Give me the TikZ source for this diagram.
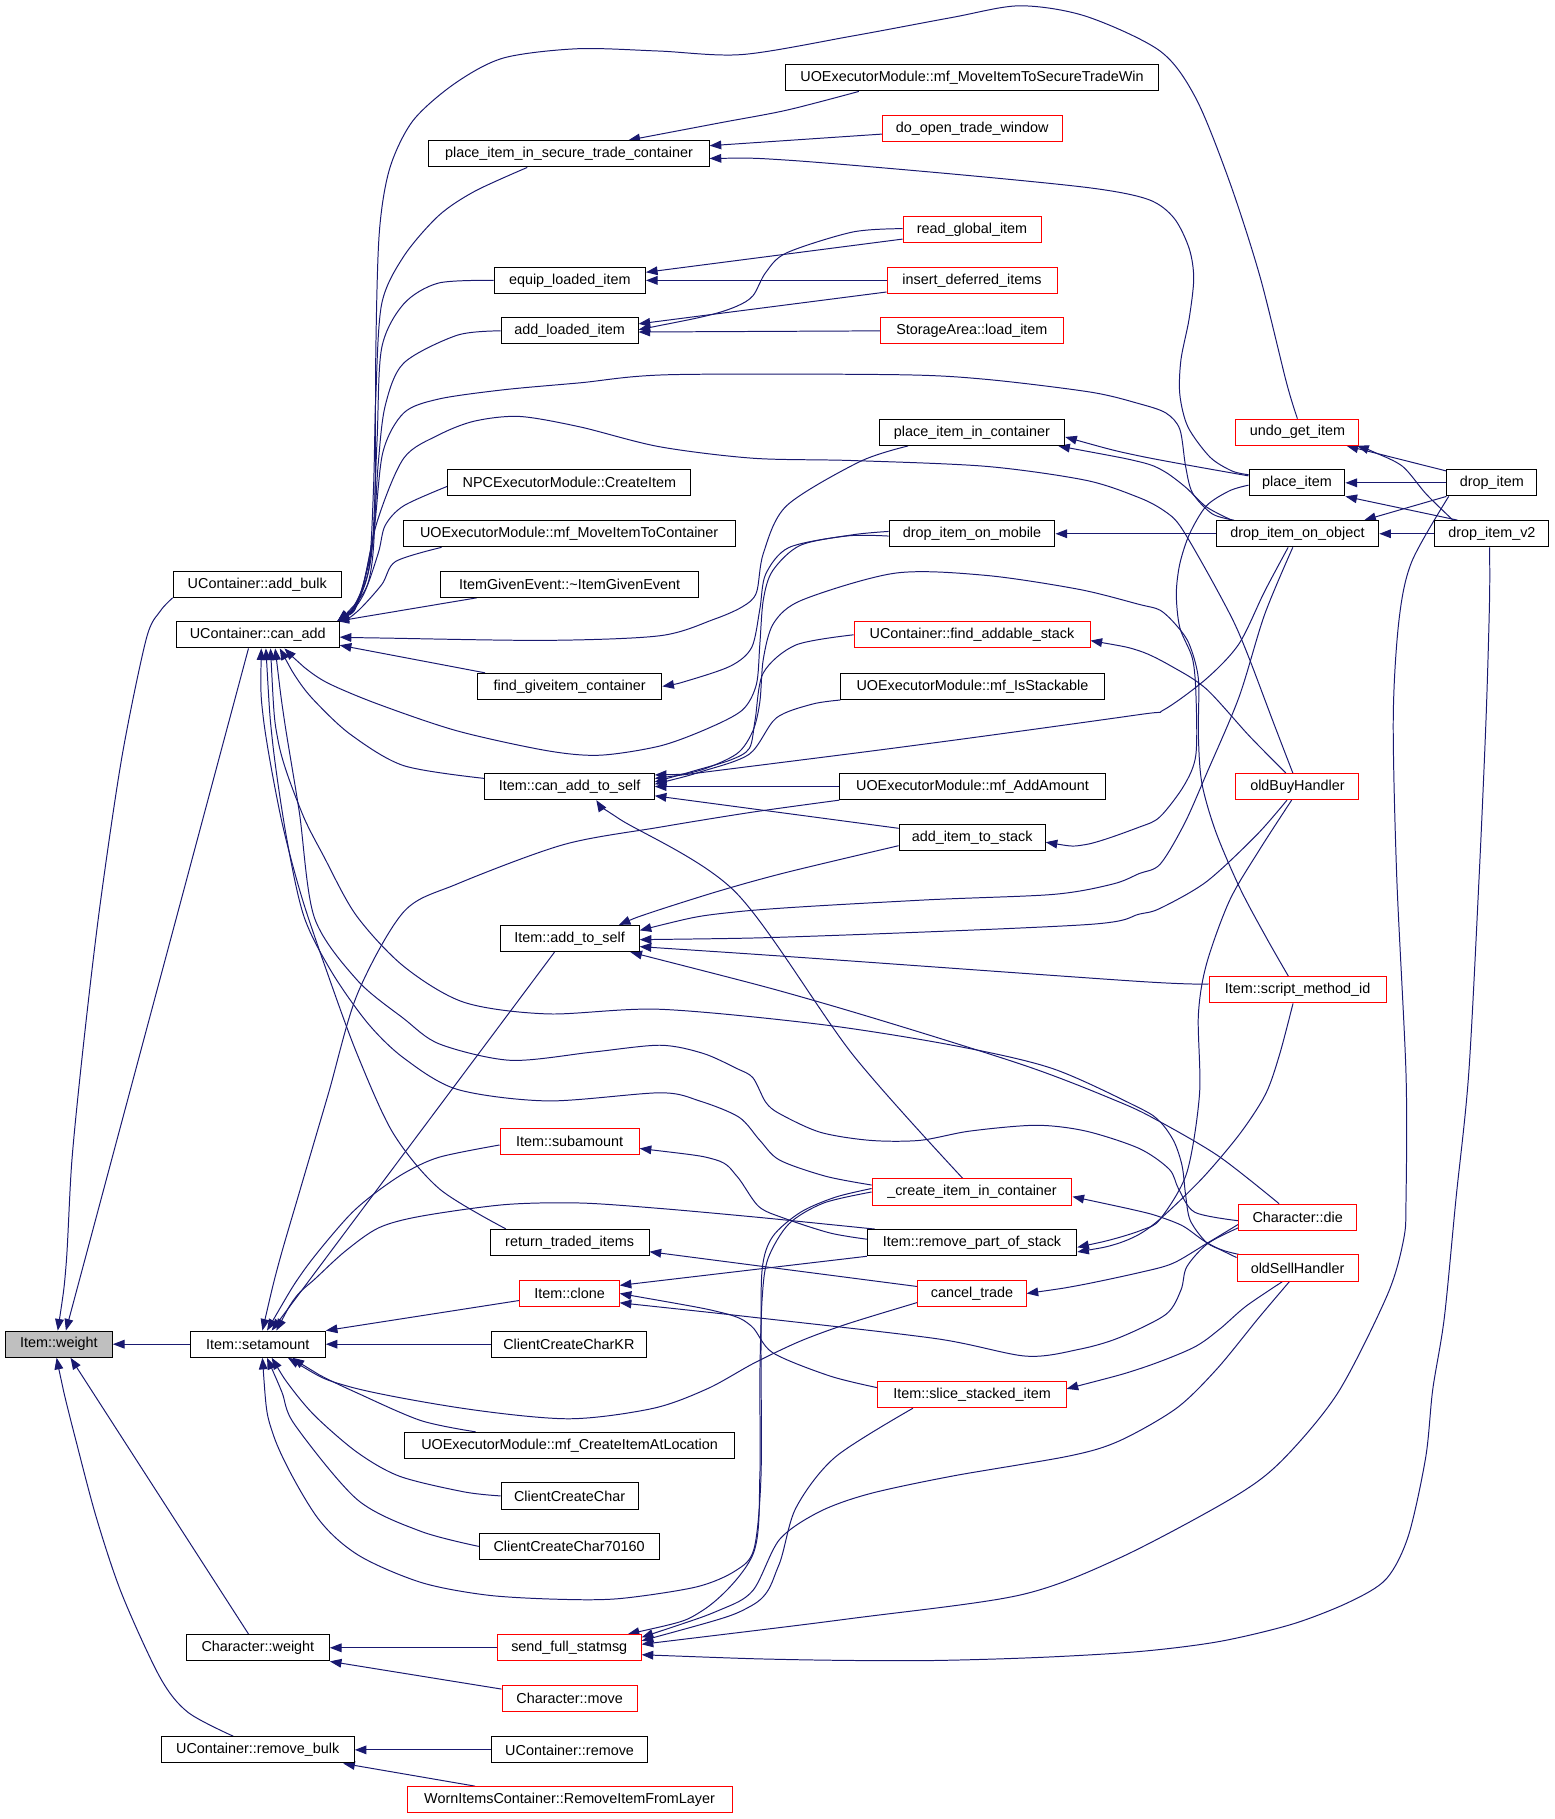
\documentclass[tikz,border=0pt]{standalone}
\usepackage{fontspec}
\setmainfont{Liberation Sans}
\usetikzlibrary{arrows.meta,calc}
\pgfdeclarelayer{bg}
\pgfdeclarelayer{edges}
\pgfsetlayers{bg,edges,main}
\definecolor{edgec}{HTML}{191970}
\definecolor{nfill}{HTML}{BFBFBF}
\tikzset{
  nd/.style={draw=black, fill=white, line width=0.85pt, minimum height=22.6pt, inner sep=0pt, anchor=center, font=\fontsize{12.4pt}{14pt}\selectfont},
  rd/.style={nd, draw=red},
  e/.style={draw=edgec, line width=0.85pt, arrows={Triangle[length=10pt,width=7.5pt]-}}
}
\begin{document}
\begin{tikzpicture}[x=1pt,y=-1pt]
\begin{pgfonlayer}{bg}
\fill[white] (0,0) rectangle (1340,1568);
\end{pgfonlayer}
\useasboundingbox (0,0) rectangle (1340,1568);
% column 1-2
\node[nd,fill=nfill,minimum width=92.2pt] (W) at (50.8,1158.7) {Item::weight};
\node[nd,minimum width=145pt] (AB) at (221.8,503.6) {UContainer::add\_bulk};
\node[nd,minimum width=140.5pt] (C) at (222.2,547.2) {UContainer::can\_add};
\node[nd,minimum width=116.5pt] (SA) at (222.2,1158.7) {Item::setamount};
\node[nd,minimum width=123.3pt] (CW) at (222.3,1420.4) {Character::weight};
\node[nd,minimum width=166.5pt] (RB) at (222.2,1508.4) {UContainer::remove\_bulk};
% column 3
\node[nd,minimum width=241.6pt] (PISTC) at (490.5,132.6) {place\_item\_in\_secure\_trade\_container};
\node[nd,minimum width=130.4pt] (EQ) at (491.2,241.7) {equip\_loaded\_item};
\node[nd,minimum width=118pt] (AL) at (491,285.2) {add\_loaded\_item};
\node[nd,minimum width=209.4pt] (NPC) at (490.8,416.2) {NPCExecutorModule::CreateItem};
\node[nd,minimum width=286.3pt] (MIC) at (490.6,460.1) {UOExecutorModule::mf\_MoveItemToContainer};
\node[nd,minimum width=223pt] (IGE) at (491,503.6) {ItemGivenEvent::\textasciitilde ItemGivenEvent};
\node[nd,minimum width=159pt] (FGC) at (491,591.7) {find\_giveitem\_container};
\node[nd,minimum width=146pt] (CATS) at (491,678) {Item::can\_add\_to\_self};
\node[nd,minimum width=120pt] (ATS) at (491,809) {Item::add\_to\_self};
\node[rd,minimum width=120pt] (SUB) at (491,984) {Item::subamount};
\node[nd,minimum width=137pt] (RTI) at (491,1071) {return\_traded\_items};
\node[rd,minimum width=85.6pt] (CLN) at (491,1115) {Item::clone};
\node[nd,minimum width=134pt] (KR) at (490.4,1158.7) {ClientCreateCharKR};
\node[nd,minimum width=285pt] (CIAL) at (491,1246) {UOExecutorModule::mf\_CreateItemAtLocation};
\node[nd,minimum width=118pt] (CCC) at (491,1289.5) {ClientCreateChar};
\node[nd,minimum width=155pt] (C70) at (490.6,1333) {ClientCreateChar70160};
\node[rd,minimum width=124pt] (SFS) at (490.7,1420.4) {send\_full\_statmsg};
\node[rd,minimum width=116.5pt] (CM) at (491,1464) {Character::move};
\node[nd,minimum width=135pt] (UR) at (491,1508.4) {UContainer::remove};
\node[rd,minimum width=280pt] (WIC) at (491,1551.4) {WornItemsContainer::RemoveItemFromLayer};
% column 4
\node[nd,minimum width=322.3pt] (STW) at (837.9,67.1) {UOExecutorModule::mf\_MoveItemToSecureTradeWin};
\node[rd,minimum width=155pt] (DOT) at (838,110.6) {do\_open\_trade\_window};
\node[rd,minimum width=119pt] (RGI) at (837.9,198.1) {read\_global\_item};
\node[rd,minimum width=146.5pt] (IDI) at (837.9,241.7) {insert\_deferred\_items};
\node[rd,minimum width=157pt] (SAL) at (837.8,285.2) {StorageArea::load\_item};
\node[nd,minimum width=160pt] (PIC) at (837.8,372.7) {place\_item\_in\_container};
\node[nd,minimum width=143pt] (DIM) at (837.9,460.1) {drop\_item\_on\_mobile};
\node[rd,minimum width=203.4pt] (FAS) at (837.9,547.2) {UContainer::find\_addable\_stack};
\node[nd,minimum width=227pt] (IST) at (838.3,591.7) {UOExecutorModule::mf\_IsStackable};
\node[nd,minimum width=228.7pt] (AA) at (838.3,678) {UOExecutorModule::mf\_AddAmount};
\node[nd,minimum width=126pt] (AIS) at (838,722) {add\_item\_to\_stack};
\node[rd,minimum width=172.3pt] (CIC) at (837.9,1027.5) {\_create\_item\_in\_container};
\node[nd,minimum width=180.6pt] (RPS) at (837.9,1071.2) {Item::remove\_part\_of\_stack};
\node[rd,minimum width=93.2pt] (CT) at (837.9,1115) {cancel\_trade};
\node[rd,minimum width=162.2pt] (SSI) at (837.9,1202.2) {Item::slice\_stacked\_item};
% column 5
\node[rd,minimum width=106pt] (UGI) at (1118.4,372.6) {undo\_get\_item};
\node[nd,minimum width=82.7pt] (PI) at (1118,416.2) {place\_item};
\node[nd,minimum width=140.4pt] (DIO) at (1118.4,460.1) {drop\_item\_on\_object};
\node[rd,minimum width=106pt] (OBH) at (1118.4,678) {oldBuyHandler};
\node[rd,minimum width=152.8pt] (SMI) at (1118.6,853.2) {Item::script\_method\_id};
\node[rd,minimum width=101.2pt] (CD) at (1118.6,1049.3) {Character::die};
\node[rd,minimum width=104.3pt] (OSH) at (1118.5,1093) {oldSellHandler};
% column 6
\node[nd,minimum width=77.6pt] (DI) at (1286,416.2) {drop\_item};
\node[nd,minimum width=98.2pt] (DI2) at (1286,460.1) {drop\_item\_v2};

\begin{pgfonlayer}{edges}
% Item::weight
\draw[e] plot[smooth] coordinates {($(W.north)+(-1,0)$) (57,1090) (62,1000) (72,900) (86,782) (105,653) (126,551) (138,527) (AB.south west)};
\draw[e] ($(W.north)+(6,0)$) -- ($(C.south)+(-8,0)$);
\draw[e] (W.east) -- (SA.west);
\draw[e] ($(W.south)+(10,0)$) -- ($(CW.north)+(-8,0)$);
\draw[e] plot[smooth] coordinates {($(W.south)+(-2,0)$) (55,1200) (65,1240) (83,1308) (105,1374) (138,1446) (162,1476) ($(RB.north)+(-21,0)$)};
% UContainer::can_add fan
\draw[e] plot[smooth] coordinates {($(C.north east)+(-2,0)$) (306,521) (318,500) (323,450) (324,300) (327,200) (336,145) (356,104) (392,72) (434,50) (498,42) (568,44) (640,47) (735,31) (821,15) (879,5) (936,14) (1000,44) (1031,85) (1060,157) (1086,238) (1109,330) (UGI.north)};
\draw[e] plot[smooth] coordinates {($(C.north east)+(-2,0)$) (307,520) (318,490) (322,420) (324,340) (329,262) (348,221) (378,186) (409,165) ($(PISTC.south)+(-36,0)$)};
\draw[e] plot[smooth] coordinates {($(C.north east)+(-2,0)$) (307,519) (320,480) (325,380) (329,300) (348,262) (378,244) (EQ.west)};
\draw[e] plot[smooth] coordinates {($(C.north east)+(-2,0)$) (308,518) (321,470) (326,400) (332,350) (348,313) (394,289) (AL.west)};
\draw[e] plot[smooth] coordinates {($(C.north east)+(-2,0)$) (309,517) (322,460) (330,390) (348,356) (378,344) (434,336) (500,330) (577,323) (773,323) (850,327) (940,338) (982,348) (1005,356) (1017,370) (1022,402) (1028,425) (1045,443) ($(DIO.north west)+(16,0)$)};
\draw[e] plot[smooth] coordinates {($(C.north east)+(-2,0)$) (310,516) (325,450) (348,395) (378,375) (409,363) (448,359) (500,368) (568,385) (649,395) (735,397) (850,402) (936,414) (982,429) (1003,440) (1017,453) (1040,492) (1063,535) (1077,568) (1097,621) ($(OBH.north)+(-4,0)$)};
\draw[e] plot[smooth] coordinates {($(C.north east)+(-2,0)$) (312,515) (326,477) (332,453) (348,436) ($(NPC.west)+(0,3)$)};
\draw[e] plot[smooth] coordinates {($(C.north east)+(-2,0)$) (307,528) (329,504) (341,484) ($(MIC.south)+(-110,0)$)};
\draw[e] ($(C.north east)+(-2,0)$) -- ($(IGE.south)+(-80,0)$);
\draw[e] plot[smooth] coordinates {($(C.east)+(0,2)$) (330,550) (471,552) (569,548) (615,534) (640,523) (652,511) (658,477) (678,436) (741,398) ($(PIC.south)+(-55,0)$)};
\draw[e] ($(C.east)+(0,9)$) -- ($(FGC.north west)+(7,0)$);
\draw[e] plot[smooth] coordinates {($(C.south)+(23,0)$) (262,575) (283,589) (326,607) (394,630) (471,647) (517,651) (569,643) (610,628) (640,612) (652,590) (655,555) (658,517) (666,492) (690,470) (735,461) ($(DIM.west)+(0,-2)$)};
\draw[e] plot[smooth] coordinates {($(C.south)+(19,0)$) (256,585) (271,604) (302,633) (348,660) ($(CATS.west)+(0,-7)$)};
\draw[e] plot[smooth] coordinates {($(C.south)+(3,0)$) (227,619) (242,704) (260,773) (283,841) (308,909) (339,977) (379,1025) ($(RTI.north)+(-55,0)$)};
\draw[e] plot[smooth] coordinates {($(C.south)+(7,0)$) (235,640) (247,722) (262,790) (286,838) (317,882) (348,912) (394,939) (472,949) (569,942) (603,949) (637,963) (655,983) (672,1000) (712,1014) ($(CIC.west)+(0,-6)$)};
\draw[e] plot[smooth] coordinates {($(C.south)+(11,0)$) (240,640) (260,700) (279,738) (307,789) (348,833) (400,864) (472,874) (569,870) (707,883) (821,901) (907,921) (982,955) (1000,967) (1012,984) (1019,1005) (1022,1030) (1026,1052) (1040,1071) (1055,1078) ($(OSH.north west)+(2,0)$)};
\draw[e] plot[smooth] coordinates {($(C.south)+(15,0)$) (245,620) (258,700) (271,791) (308,845) (348,878) (379,900) (440,914) (510,907) (569,901) (606,908) (635,921) (649,929) (660,950) (672,960) (707,976) (750,983) (793,983) (836,975) (893,970) (936,975) (982,990) (1008,1008) (1016,1025) (1030,1045) ($(CD.west)+(0,3)$)};
% Item::setamount
\draw[e] plot[smooth] coordinates {($(SA.north)+(4,0)$) (240,1090) (258,1028) (283,943) (308,857) (348,786) (394,762) (486,728) (569,713) (649,700) (AA.south west)};
\draw[e] ($(SA.north)+(12,0)$) -- ($(ATS.south)+(-13,0)$);
\draw[e] plot[smooth] coordinates {($(SA.north)+(8,0)$) (262,1095) (298,1051) (320,1031) (348,1011.5) (378.6,997.5) ($(SUB.west)+(0,3)$)};
\draw[e] plot[smooth] coordinates {($(SA.north)+(16,0)$) (255,1118) (272,1102) (297.5,1078.6) (326.4,1058.4) (362.7,1048.4) (435,1038.4) (500,1037) (569,1041.7) (650,1049) (710,1055) ($(RPS.north west)+(7,0)$)};
\draw[e] (SA.north east) -- ($(CLN.west)+(0,6)$);
\draw[e] (SA.east) -- (KR.west);
\draw[e] plot[smooth] coordinates {($(SA.south)+(30,0)$) (275,1185) (308,1200.8) (362.7,1224.5) ($(CIAL.north west)+(62,0)$)};
\draw[e] plot[smooth] coordinates {($(SA.south)+(26,0)$) (300,1195) (399,1214) (490,1223) (563,1214) (610,1197) (650,1175) (690,1156) (731,1141) ($(CT.south west)+(0,-4)$)};
\draw[e] plot[smooth] coordinates {($(SA.south)+(12,0)$) (250,1195) (272,1221) (308,1252) (344.6,1272.6) (400,1286) (CCC.west)};
\draw[e] plot[smooth] coordinates {($(SA.south)+(8,0)$) (243,1200) (254,1228) (308,1292.7) (362.7,1320) (C70.west)};
\draw[e] plot[smooth] coordinates {($(SA.south)+(4,0)$) (236,1238) (272,1306) (308,1340) (362.7,1364) (420,1375) (482,1378.6) (534,1378) (600,1368) (634,1354) (650,1335) (656,1272) (656,1160) (657,1094) (666,1066) (690,1045) (720,1032) ($(CIC.west)+(0,-3)$)};
% Character::weight, remove_bulk
\draw[e] (CW.east) -- (SFS.west);
\draw[e] (CW.south east) -- ($(CM.west)+(0,-8)$);
\draw[e] (RB.east) -- (UR.west);
\draw[e] ($(RB.south east)+(-10,0)$) -- ($(WIC.north west)+(59,0)$);
% place_item_in_secure_trade_container
\draw[e] plot[smooth] coordinates {($(PISTC.north east)+(-70,0)$) (620,106) (678,95) ($(STW.south west)+(64,0)$)};
\draw[e] ($(PISTC.east)+(0,-7)$) -- ($(DOT.west)+(0,5)$);
\draw[e] plot[smooth] coordinates {($(PISTC.east)+(0,4)$) (678,138) (821,150) (940,162) (990,172) (1012,188) (1025,214) (1029,240) (1025,275) (1018,310) (1017,340) (1024,368) (1043,394) (1062,406) ($(PI.west)+(0,-7)$)};
% equip / add_loaded
\draw[e] ($(EQ.east)+(0,-7)$) -- ($(RGI.west)+(0,8)$);
\draw[e] (EQ.east) -- (IDI.west);
\draw[e] plot[smooth] coordinates {($(AL.east)+(0,-1)$) (610,272) (635,264) (649,255) (660,235) (678,218) (735,200) ($(RGI.west)+(0,-1)$)};
\draw[e] ($(AL.east)+(0,-6)$) -- ($(IDI.west)+(0,10)$);
\draw[e] ($(AL.east)+(0,1)$) -- (SAL.west);
% place_item_in_container, drop_item_on_mobile, find_giveitem_container
\draw[e] plot[smooth] coordinates {($(PIC.east)+(0,4)$) (982,393) ($(PI.west)+(0,-6)$)};
\draw[e] plot[smooth] coordinates {($(PIC.south east)+(-6,0)$) (982,398) (1003,406) (1022,420) (1040,437) ($(DIO.north west)+(14,0)$)};
\draw[e] (DIM.east) -- (DIO.west);
\draw[e] plot[smooth] coordinates {(FGC.east) (592,587) (630,574) (648,558) (655,525) (660,495) (680,472) (730,462) ($(DIM.west)+(0,2)$)};
% Item::can_add_to_self
\draw[e] plot[smooth] coordinates {($(CATS.east)+(0,-10)$) (600,665) (634.8,650) (649,630) (655,605) (658,568) (667,537) (692,517) (772,494) (850,496) (930,508) (982,521) (1000,526) (1014,539) (1025,555) (1033,585) (1033,634) (1036,675) (1048,717) (1069,766) (1092,809) ($(SMI.north)+(-8,0)$)};
\draw[e] plot[smooth] coordinates {($(CATS.east)+(0,-7)$) (800,641) (982,616) (1003,612) (1040,585) (1068,555) (1090,510) ($(DIO.south)+(-8,0)$)};
\draw[e] plot[smooth] coordinates {($(CATS.east)+(0,-4)$) (600,664) (630,655) (646,645) (651,620) (658,580) (686,556) (FAS.west)};
\draw[e] plot[smooth] coordinates {($(CATS.east)+(0,-2)$) (605,665) (646,650) (669,619) (700,607) (IST.south west)};
\draw[e] (CATS.east) -- (AA.west);
\draw[e] ($(CATS.east)+(0,8)$) -- ($(AIS.west)+(0,-8)$);
\draw[e] plot[smooth] coordinates {($(CATS.south)+(23,0)$) (534,706) (634,769) (735,909) ($(CIC.north)+(-8,0)$)};
% Item::add_to_self
\draw[e] plot[smooth] coordinates {($(ATS.north east)+(-18,0)$) (560,787) (620,768) (678,752) ($(AIS.west)+(0,7)$)};
\draw[e] plot[smooth] coordinates {($(ATS.east)+(0,-7)$) (634.8,786) (792.8,776) (907.7,771) (959.4,762) (982,753) (1000,745) (1021,710) (1040,667) (1068,601) (1090,530) ($(DIO.south)+(-4,0)$)};
\draw[e] plot[smooth] coordinates {($(ATS.east)+(0,1)$) (700,807) (937,797) (982,788) (1000,783) (1040,760) (1083,720) ($(OBH.south)+(-9,0)$)};
\draw[e] plot[smooth] coordinates {($(ATS.east)+(0,7)$) (700,826) (982,846) ($(SMI.west)+(0,-5)$)};
\draw[e] plot[smooth] coordinates {($(ATS.south east)+(-8,0)$) (707,864) (879,917) (965,950) (1000,967) (1051,997) ($(CD.north west)+(35,0)$)};
% subamount, return_traded_items, clone
\draw[e] plot[smooth] coordinates {($(SUB.east)+(0,6)$) (616.8,999.7) (635.3,1014) (653.8,1039.8) (675.3,1049.9) (715.3,1062.8) ($(RPS.west)+(0,-3)$)};
\draw[e] ($(RTI.east)+(0,8)$) -- ($(CT.west)+(0,-6)$);
\draw[e] ($(CLN.east)+(0,-7)$) -- (RPS.south west);
\draw[e] plot[smooth] coordinates {(CLN.east) (623,1131.7) (647.6,1143) (666,1166) (715,1186) ($(SSI.west)+(0,-6)$)};
\draw[e] plot[smooth] coordinates {($(CLN.east)+(0,8)$) (653.7,1136) (807.6,1154) (884.5,1169) (930.7,1163) (965,1153) (1005,1133) (1018,1112) (1023,1092) (1041,1072) ($(CD.west)+(0,9)$)};
% send_full_statmsg
\draw[e] plot[smooth] coordinates {($(SFS.north east)+(-12,0)$) (606,1388) (649,1340) (655,1272) (655,1187) (657,1119) (662,1085) (680,1055) (710,1037) (CIC.west)};
\draw[e] plot[smooth] coordinates {($(SFS.east)+(0,-6)$) (648,1384) (671,1350) (686,1300) (720,1256) ($(SSI.south)+(-51,0)$)};
\draw[e] plot[smooth] coordinates {($(SFS.east)+(0,-9)$) (620,1388) (649,1371) (672,1327) (706.6,1303) (749.6,1287.6) (821.4,1272.3) (922,1255) (965,1242) (1014,1214) (1049,1180) (1085,1136) ($(OSH.south)+(-7,0)$)};
\draw[e] plot[smooth] coordinates {($(SFS.east)+(0,-3)$) (735,1395) (879,1375) (965,1343) (1061,1292) (1104,1260) (1153,1201) (1196,1116) (1210,1068) (1212,1034) (1212,926) (1204,756) (1201,619) (1206,534) (1217,484) ($(DI.south west)+(2,0)$)};
\draw[e] plot[smooth] coordinates {($(SFS.east)+(0,6)$) (678,1430.5) (793,1431.5) (893.7,1428.8) (982.4,1423.6) (1051,1415) (1114,1400) (1163,1381) (1195,1361) (1214,1324) (1229,1256) (1235,1198) (1245,1136) (1255,1034) (1266,926) (1275,756) (1281,619) (1284,517) ($(DI2.south)+(-2,0)$)};
% column 4 callees
\draw[e] plot[smooth] coordinates {($(RPS.east)+(0,4)$) (960,1068) (985,1060) (1000,1051) (1023,1011) (1034,943) (1033,875) (1040,831) (1060,776) (1086,732) ($(OBH.south)+(-5,0)$)};
\draw[e] plot[smooth] coordinates {($(RPS.east)+(0,8)$) (960,1073) (982,1064) (1002,1049) (1037,1015) (1069,977) (1091,943) (1103,909) ($(SMI.south)+(-4,0)$)};
\draw[e] plot[smooth] coordinates {(CT.east) (930,1108) (982,1097) (1011,1089) (1040,1072) ($(CD.west)+(0,6)$)};
\draw[e] plot[smooth] coordinates {($(CIC.east)+(0,4)$) (982,1044) (1000,1049) (1020,1057) (1040,1071) ($(OSH.west)+(0,-9)$)};
\draw[e] plot[smooth] coordinates {($(SSI.east)+(0,-5)$) (982,1180) (1028,1162) (1051,1146) (1074,1126) ($(OSH.south)+(-13,0)$)};
\draw[e] plot[smooth] coordinates {($(FAS.east)+(0,5)$) (982,561) (1011,575) (1040,594) (1077,634.5) ($(OBH.north)+(-10,0)$)};
\draw[e] plot[smooth] coordinates {($(AIS.east)+(0,4)$) (936,728) (982,713) (1000,704) (1020.7,677) (1030.8,651) (1031,601) (1028,568) (1017,541) (1014,512) (1017,486) (1025.5,460) (1040,436) (1060,423) ($(PI.west)+(0,2)$)};
% column 5 callees
\draw[e] ($(UGI.south east)+(-11,0)$) -- ($(DI.north west)+(0,1.5)$);
\draw[e] plot[smooth] coordinates {($(UGI.south east)+(-2,0)$) (1185,390) (1209,402) (1229.5,426) ($(DI2.north west)+(16,0)$)};
\draw[e] (PI.east) -- (DI.west);
\draw[e] (PI.south east) -- ($(DI2.north west)+(20,0)$);
\draw[e] ($(DIO.north east)+(-13,0)$) -- (DI.south west);
\draw[e] (DIO.east) -- (DI2.west);
\end{pgfonlayer}
\end{tikzpicture}
\end{document}
